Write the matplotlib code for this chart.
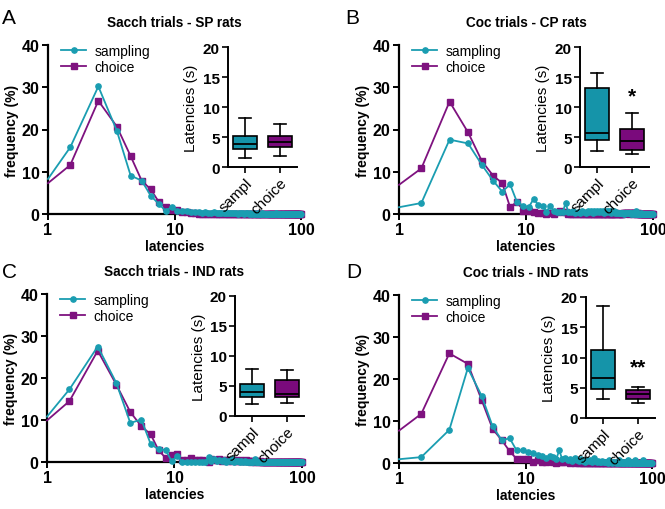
import matplotlib.pyplot as plt

plt.rcParams['font.family'] = ['Liberation Sans', 'DejaVu Sans']

TEAL = '#1a9db1'
PURPLE = '#7e127f'

# latency bins (s); first entry is where the curve enters at the y axis
bins = [1.0] + [n + 0.5 for n in range(1, 100)]

# ---- frequency (%) per bin: first 12 bins (1.0 .. 11.5) + tail (12.5 .. 99.5)
a_samp_head = [8.3, 15.8, 30.2, 19.7, 9.1, 7.9, 4.3, 2.4, 0.8, 1.6, 0.8, 0.7]
a_samp_tail = [0.6, 0.5, 0.4, 0.5, 0.3, 0.4, 0.3, 0.3, 0.4, 0.2, 0.3,
               0.3, 0.2, 0.3, 0.2, 0.3, 0.2, 0.2, 0.3, 0.1, 0.2, 0.2,
               0.2, 0.1, 0.2, 0.2, 0.1, 0.2, 0.1, 0.1, 0.2, 0.1, 0.1,
               0.2, 0.1, 0.1, 0.1, 0.2, 0.1, 0.0, 0.1, 0.1, 0.1, 0.0,
               0.1, 0.1, 0.0, 0.1, 0.1, 0.0, 0.1, 0.3, 0.0, 0.1, 0.0,
               0.1, 0.0, 0.1, 0.0, 0.1, 0.0, 0.0, 0.1, 0.0, 0.1, 0.0,
               0.0, 0.1, 0.0, 0.0, 0.1, 0.0, 0.0, 0.0, 0.1, 0.0, 0.0,
               0.0, 0.0, 0.1, 0.0, 0.0, 0.0, 0.0, 0.1, 0.0, 0.0, 0.0]
a_choi_head = [7.3, 11.6, 26.8, 20.7, 13.7, 7.9, 5.8, 2.9, 1.7, 1.0, 1.0, 0.5]
a_choi_tail = [0.4, 0.3, 0.2, 0.1, 0.1, 0.0, 0.1, 0.0, 0.0, 0.1, 0.0,
               0.0, 0.0, 0.1, 0.0, 0.0, 0.0, 0.0, 0.1, 0.0, 0.0, 0.0,
               0.0, 0.0, 0.0, 0.1, 0.0, 0.0, 0.0, 0.0, 0.0, 0.0, 0.0,
               0.0, 0.1, 0.0, 0.0, 0.0, 0.0, 0.0, 0.0, 0.0, 0.0, 0.0,
               0.0, 0.0, 0.0, 0.0, 0.1, 0.0, 0.0, 0.0, 0.0, 0.0, 0.0,
               0.0, 0.0, 0.0, 0.0, 0.0, 0.0, 0.1, 0.0, 0.0, 0.0, 0.0,
               0.0, 0.0, 0.0, 0.0, 0.0, 0.0, 0.0, 0.0, 0.0, 0.0, 0.0,
               0.0, 0.0, 0.0, 0.0, 0.0, 0.0, 0.0, 0.0, 0.0, 0.0, 0.0]

b_samp_head = [1.6, 2.6, 17.6, 16.7, 11.6, 7.9, 5.3, 7.0, 2.8, 2.0, 1.6, 3.6]
b_samp_tail = [2.1, 2.0, 0.4, 2.0, 0.7, 0.4, 0.4, 0.5, 2.6, 0.5, 0.4,
               0.6, 0.3, 0.5, 0.3, 0.6, 0.4, 0.3, 0.6, 0.5, 0.6, 0.3,
               0.6, 0.5, 0.6, 0.4, 0.6, 0.5, 0.6, 0.3, 0.6, 0.5, 0.6,
               0.6, 0.3, 0.6, 0.5, 0.6, 0.2, 0.5, 0.3, 0.2, 0.2, 0.2,
               0.2, 0.3, 0.2, 0.1, 0.2, 0.2, 0.2, 0.3, 0.2, 0.2, 0.2,
               0.1, 0.2, 0.1, 0.2, 0.2, 0.1, 0.6, 0.2, 0.1, 0.1, 0.1,
               0.1, 0.1, 0.2, 0.1, 0.1, 0.1, 0.1, 0.1, 0.0, 0.1, 0.1,
               0.1, 0.0, 0.1, 0.1, 0.0, 0.1, 0.0, 0.0, 0.1, 0.0, 0.0]
b_choi_head = [6.9, 10.8, 26.6, 19.3, 12.5, 9.1, 7.3, 1.6, 2.9, 0.8, 0.7, 0.4]
b_choi_tail = [0.2, 0.3, 0.1, 0.2, 0.1, 0.4, 0.6, 0.5, 0.4, 0.1, 0.1,
               0.0, 0.1, 0.0, 0.0, 0.1, 0.0, 0.0, 0.0, 0.1, 0.0, 0.0,
               0.0, 0.0, 0.1, 0.0, 0.0, 0.0, 0.0, 0.0, 0.0, 0.1, 0.0,
               0.0, 0.0, 0.0, 0.1, 0.0, 0.0, 0.2, 0.0, 0.0, 0.0, 0.0,
               0.1, 0.0, 0.2, 0.3, 0.2, 0.3, 0.2, 0.3, 0.1, 0.2, 0.3,
               0.2, 0.3, 0.1, 0.2, 0.3, 0.2, 0.1, 0.2, 0.1, 0.2, 0.1,
               0.0, 0.1, 0.0, 0.0, 0.1, 0.0, 0.0, 0.0, 0.0, 0.0, 0.0,
               0.0, 0.0, 0.0, 0.0, 0.0, 0.0, 0.0, 0.0, 0.0, 0.0, 0.0]

c_samp_head = [10.8, 17.3, 27.5, 18.8, 9.3, 10.1, 4.3, 3.0, 2.9, 0.2, 1.4, 0.0]
c_samp_tail = [0.0, 0.0, 0.1, 0.0, 0.0, 0.1, 1.2, 0.2, 0.6, 0.3, 0.5,
               0.2, 0.5, 0.1, 0.3, 0.2, 0.6, 0.1, 0.2, 0.3, 0.1, 0.2,
               0.1, 0.2, 0.1, 0.0, 0.1, 0.1, 0.0, 0.1, 0.7, 0.1, 0.0,
               0.1, 0.0, 0.0, 0.1, 0.0, 0.0, 0.0, 0.1, 0.0, 0.0, 0.0,
               0.0, 0.0, 0.1, 0.0, 0.0, 0.0, 0.0, 0.0, 0.1, 0.0, 0.0,
               0.0, 0.0, 0.0, 0.0, 0.1, 0.0, 0.0, 0.0, 0.0, 0.0, 0.0,
               0.0, 0.0, 0.0, 0.0, 0.0, 0.0, 0.1, 0.0, 0.0, 0.0, 0.0,
               0.0, 0.0, 0.0, 0.0, 0.0, 0.0, 0.0, 0.0, 0.0, 0.0, 0.0]
c_choi_head = [9.9, 14.5, 26.5, 18.4, 11.9, 8.5, 6.6, 2.8, 1.0, 1.7, 1.9, 0.5]
c_choi_tail = [0.5, 1.0, 0.5, 0.4, 0.5, 0.3, 0.0, 0.6, 0.5, 0.4, 0.6,
               0.3, 0.5, 0.4, 0.2, 0.4, 0.3, 0.5, 0.2, 0.3, 0.4, 0.2,
               0.3, 0.2, 0.4, 0.2, 0.3, 0.1, 0.2, 0.3, 0.1, 0.2, 0.3,
               0.1, 0.2, 0.1, 0.0, 0.1, 0.0, 0.0, 0.0, 0.0, 0.0, 0.0,
               0.0, 0.0, 0.0, 0.0, 0.0, 0.0, 0.0, 0.0, 0.0, 0.0, 0.0,
               0.0, 0.0, 0.0, 0.0, 0.0, 0.0, 0.0, 0.0, 0.0, 0.0, 0.0,
               0.0, 0.0, 0.0, 0.0, 0.0, 0.0, 0.0, 0.0, 0.0, 0.0, 0.0,
               0.0, 0.0, 0.0, 0.0, 0.0, 0.0, 0.0, 0.0, 0.0, 0.0, 0.0]

d_samp_head = [0.9, 1.4, 7.9, 22.6, 16.0, 8.7, 5.4, 5.9, 3.0, 3.0, 2.6, 2.3]
d_samp_tail = [1.8, 1.6, 1.2, 1.6, 1.5, 1.0, 3.0, 0.9, 1.2, 0.6, 1.0,
               0.5, 1.1, 0.6, 0.4, 0.9, 0.5, 0.3, 0.8, 0.4, 0.6, 0.3,
               1.2, 0.4, 0.3, 0.5, 0.2, 0.3, 0.4, 0.3, 0.2, 0.3, 0.1,
               0.8, 0.2, 0.3, 0.1, 0.3, 0.2, 0.1, 0.2, 0.1, 0.6, 0.1,
               0.2, 0.1, 0.2, 0.1, 0.1, 0.2, 0.1, 0.1, 0.7, 0.1, 0.1,
               0.1, 0.1, 0.2, 0.1, 0.0, 0.1, 0.6, 0.1, 0.1, 0.0, 0.1,
               0.1, 0.0, 0.1, 0.1, 0.0, 0.1, 0.0, 0.6, 0.1, 0.0, 0.0,
               0.1, 0.0, 0.0, 0.1, 0.0, 0.0, 0.0, 0.0, 0.0, 0.1, 0.0]
d_choi_head = [7.7, 11.7, 26.1, 23.6, 15.0, 8.1, 5.4, 2.8, 1.0, 1.0, 0.9, 0.3]
d_choi_tail = [0.6, 0.3, 0.3, 0.5, 0.2, 0.1, 0.3, 0.2, 0.2, 0.4, 0.1,
               0.2, 0.1, 0.3, 0.0, 0.0, 0.0, 0.0, 0.0, 0.0, 0.0, 0.0,
               0.0, 0.0, 0.0, 0.0, 0.0, 0.0, 0.0, 0.0, 0.0, 0.0, 0.0,
               0.0, 0.0, 0.0, 0.0, 0.0, 0.0, 0.0, 0.0, 0.0, 0.0, 0.0,
               0.0, 0.0, 0.0, 0.0, 0.0, 0.0, 0.0, 0.0, 0.0, 0.0, 0.0,
               0.0, 0.0, 0.0, 0.0, 0.0, 0.0, 0.0, 0.0, 0.0, 0.0, 0.0,
               0.0, 0.0, 0.0, 0.0, 0.0, 0.0, 0.0, 0.0, 0.0, 0.0, 0.0,
               0.0, 0.0, 0.0, 0.0, 0.0, 0.0, 0.0, 0.0, 0.0, 0.0, 0.0]

# ---- inset box plots: (whisker low, q1, median, q3, whisker high)
a_box = [(1.5, 3.0, 3.8, 5.1, 8.1), (1.8, 3.3, 4.2, 5.1, 7.2)]
b_box = [(2.6, 4.5, 5.6, 13.1, 15.6), (2.1, 2.8, 4.4, 6.4, 9.0)]
c_box = [(2.0, 3.2, 4.0, 5.3, 7.9), (2.2, 3.1, 3.6, 6.0, 7.6)]
d_box = [(3.2, 4.8, 6.6, 11.2, 18.5), (2.4, 3.2, 3.9, 4.7, 5.2)]
box_labels = ['sampl', 'choice']

titles = ['Sacch trials - SP rats', 'Coc trials - CP rats',
          'Sacch trials - IND rats', 'Coc trials - IND rats']
letters = ['A', 'B', 'C', 'D']
stars = ['', '*', '', '**']
star_y = [0, 10.3, 0, 6.8]

W, H = 665, 510
def px_rect(l, r, top, bot):
    return [l / W, (H - bot) / H, (r - l) / W, (bot - top) / H]

main_rects = [px_rect(48, 301, 46, 215), px_rect(399, 653, 46, 215),
              px_rect(47, 302, 295, 463), px_rect(399, 652, 296, 464)]
inset_rects = [px_rect(228, 297, 48, 168), px_rect(580, 649, 48, 168),
               px_rect(235, 304, 297, 417), px_rect(586, 655, 298, 419)]
letter_pos = [(2, 18), (345, 18), (2, 272), (346, 272)]

series = [(a_samp_head + a_samp_tail, a_choi_head + a_choi_tail),
          (b_samp_head + b_samp_tail, b_choi_head + b_choi_tail),
          (c_samp_head + c_samp_tail, c_choi_head + c_choi_tail),
          (d_samp_head + d_samp_tail, d_choi_head + d_choi_tail)]
boxes = [a_box, b_box, c_box, d_box]

fig = plt.figure(figsize=(W / 100, H / 100), dpi=100)

for i in range(4):
    ax = fig.add_axes(main_rects[i])
    samp, choi = series[i]
    ax.plot(bins, choi, color=PURPLE, lw=1.3, marker='s', ms=4,
            markevery=slice(1, None), clip_on=False, label='choice', zorder=3)
    ax.plot(bins, samp, color=TEAL, lw=1.3, marker='o', ms=3.8,
            markevery=slice(1, None), clip_on=False, label='sampling', zorder=4)
    ax.set_xscale('log')
    ax.set_xlim(1, 100)
    ax.set_ylim(0, 40)
    ax.set_xticks([1, 10, 100])
    ax.set_xticklabels(['1', '10', '100'])
    ax.xaxis.set_minor_locator(plt.NullLocator())
    ax.set_yticks([0, 10, 20, 30, 40])
    for s in ['top', 'right']:
        ax.spines[s].set_visible(False)
    for s in ['left', 'bottom']:
        ax.spines[s].set_linewidth(1.6)
    ax.tick_params(width=1.4, length=4, labelsize=11.5, pad=2)
    for t in ax.get_xticklabels() + ax.get_yticklabels():
        t.set_fontweight('bold')
    ax.set_xlabel('latencies', fontsize=10, fontweight='bold', labelpad=1)
    ax.set_ylabel('frequency (%)', fontsize=10, fontweight='bold', labelpad=2)
    ax.set_title(titles[i], fontsize=9.8, fontweight='bold', pad=14)
    h, l = ax.get_legend_handles_labels()
    ax.legend(h[::-1], l[::-1], loc='upper left', bbox_to_anchor=(0.03, 1.04),
              frameon=False, fontsize=10, handlelength=1.8, handletextpad=0.6,
              labelspacing=0.15, borderaxespad=0)
    fig.text(letter_pos[i][0] / W, 1 - letter_pos[i][1] / H, letters[i],
             fontsize=15, va='center', ha='left')

    # inset
    ia = fig.add_axes(inset_rects[i])
    stats = []
    for lo, q1, med, q3, hi in boxes[i]:
        stats.append(dict(whislo=lo, q1=q1, med=med, q3=q3, whishi=hi, fliers=[]))
    bp = ia.bxp(stats, positions=[1, 2], widths=0.7, patch_artist=True,
                showfliers=False,
                boxprops=dict(linewidth=1.2, edgecolor='black'),
                medianprops=dict(color='black', linewidth=1.3),
                whiskerprops=dict(color='black', linewidth=1.2),
                capprops=dict(color='black', linewidth=1.2),
                capwidths=0.35)
    bp['boxes'][0].set_facecolor('#1594a9')
    bp['boxes'][1].set_facecolor('#7a0a7c')
    ia.set_xlim(0.5, 2.5)
    ia.set_ylim(0, 20)
    ia.set_yticks([0, 5, 10, 15, 20])
    ia.set_xticks([1, 2])
    ia.set_xticklabels(box_labels, rotation=45, ha='right',
                       rotation_mode='anchor', fontsize=8.5)
    for s in ['top', 'right']:
        ia.spines[s].set_visible(False)
    for s in ['left', 'bottom']:
        ia.spines[s].set_linewidth(1.4)
    ia.tick_params(width=1.2, length=4, labelsize=11, pad=2)
    for t in ia.get_yticklabels():
        t.set_fontweight('bold')
    ia.set_ylabel('Latencies (s)', fontsize=11, labelpad=3)
    if stars[i]:
        ia.text(2, star_y[i], stars[i], ha='center', va='bottom',
                fontsize=15, fontweight='bold')

fig.savefig('out.png', dpi=100)
